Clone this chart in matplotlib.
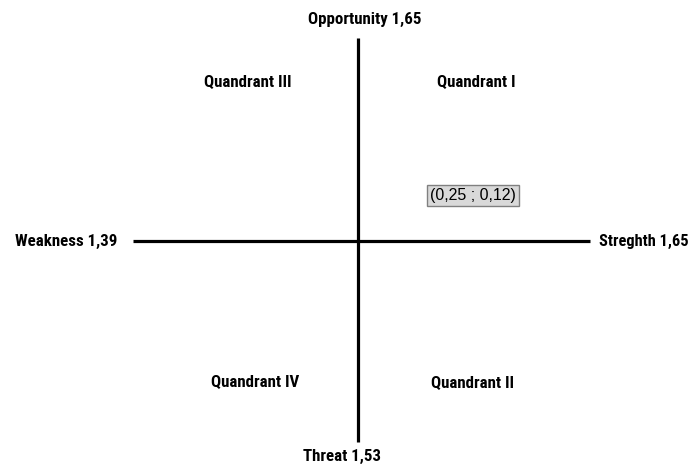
import matplotlib.pyplot as plt

# SWOT quadrant values
axis_names = ['Streghth', 'Weakness', 'Opportunity', 'Threat']
axis_values = [1.65, 1.39, 1.65, 1.53]
quadrants = ['Quandrant I', 'Quandrant II', 'Quandrant III', 'Quandrant IV']
point = (0.25, 0.12)

def fmt(v):
    return ('%.2f' % v).replace('.', ',')

plt.rcParams['font.family'] = ['Roboto Condensed', 'DejaVu Sans']
fs = 12.2

fig = plt.figure(figsize=(6.94, 4.66), dpi=100)
ax = fig.add_axes([0, 0, 1, 1])
ax.set_xlim(-1.557, 1.461)
ax.set_ylim(-1.114, 1.193)
ax.axis('off')

# axes lines
ax.plot([-0.98, 1.01], [0, 0], color='black', lw=2.3, solid_capstyle='butt')
ax.plot([0, 0], [-0.995, 1.005], color='black', lw=2.3, solid_capstyle='butt')

# end labels
ax.text(1.05, -0.005, axis_names[0] + ' ' + fmt(axis_values[0]), ha='left', va='center',
        fontsize=11.8, fontweight='bold')
ax.text(-1.048, -0.005, axis_names[1] + ' ' + fmt(axis_values[1]), ha='right', va='center',
        fontsize=fs, fontweight='bold')
ax.text(0.03, 1.095, axis_names[2] + ' ' + fmt(axis_values[2]), ha='center', va='center',
        fontsize=fs, fontweight='bold')
ax.text(-0.07, -1.065, axis_names[3] + ' ' + fmt(axis_values[3]), ha='center', va='center',
        fontsize=fs, fontweight='bold')

# quadrant names
ax.text(0.513, 0.785, quadrants[0], ha='center', va='center', fontsize=fs, fontweight='bold')
ax.text(0.496, -0.705, quadrants[1], ha='center', va='center', fontsize=fs, fontweight='bold')
ax.text(-0.478, 0.787, quadrants[2], ha='center', va='center', fontsize=fs, fontweight='bold')
ax.text(-0.448, -0.703, quadrants[3], ha='center', va='center', fontsize=fs, fontweight='bold')

# position of the point
ax.text(0.5, 0.225, '(' + fmt(point[0]) + ' ; ' + fmt(point[1]) + ')', ha='center', va='center',
        fontsize=11.5, family=['Liberation Sans', 'DejaVu Sans'],
        bbox=dict(boxstyle='square,pad=0.2', facecolor='#d9d9d9', edgecolor='#808080', lw=1))

fig.savefig('out.png', dpi=100)
